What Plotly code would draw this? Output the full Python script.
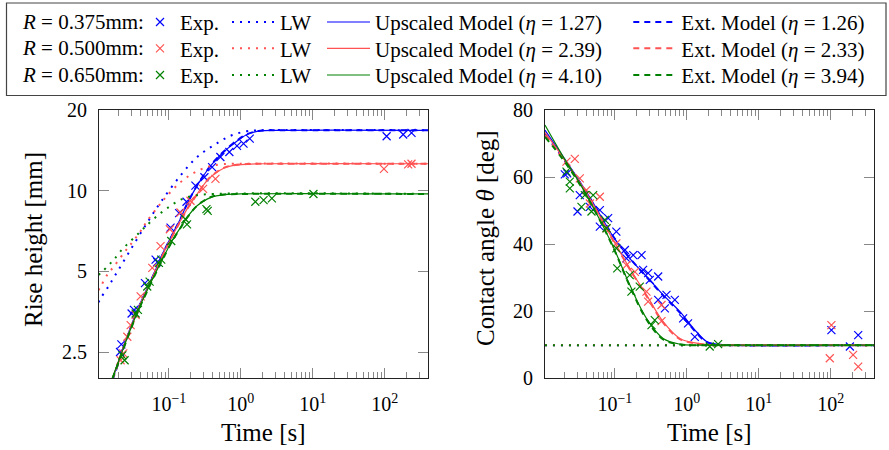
import plotly.graph_objects as go

# ---------------- data ----------------
radii_labels = ["<i>R</i> = 0.375mm:", "<i>R</i> = 0.500mm:", "<i>R</i> = 0.650mm:"]
eta_up = ["1.27", "2.39", "4.10"]
eta_ext = ["1.26", "2.33", "3.94"]
colors = ["#0000ff", "#ff5252", "#008000"]

# Rise height: experiments
t_exp_h_375 = [0.0210, 0.0219, 0.0304, 0.0328, 0.0466, 0.0655, 0.0690, 0.1056, 0.139, 0.176, 0.234, 0.312, 0.399,
               0.520, 0.693, 0.885, 1.09, 1.33, 106, 180, 235]
h_exp_375 = [2.50, 2.67, 3.48, 3.59, 4.52, 5.53, 5.41, 7.28, 8.24, 9.09, 10.44, 11.22, 12.24,
             13.35, 13.94, 14.69, 14.98, 15.64, 15.96, 16.2, 16.43]
t_exp_h_500 = [0.0214, 0.0233, 0.0265, 0.0295, 0.0346, 0.0406, 0.0589, 0.0767, 0.1033, 0.145, 0.200, 0.299, 0.444,
               97.3, 211, 235]
h_exp_500 = [2.33, 2.47, 2.85, 3.15, 3.44, 4.03, 5.15, 6.21, 7.18, 8.29, 9.17, 10.15, 11.06, 12.06, 12.53, 12.6]
t_exp_h_650 = [0.0226, 0.0243, 0.0346, 0.0372, 0.0501, 0.0541, 0.0728, 0.0784, 0.108, 0.170, 0.179, 0.333, 0.347,
               1.59, 2.07, 2.70, 10.2]
h_exp_650 = [2.43, 2.33, 3.48, 3.59, 4.39, 4.58, 5.38, 5.53, 6.49, 7.82, 7.49, 8.53, 8.41, 9.09, 9.22, 9.36, 9.72]

# Rise height: Lucas-Washburn
t_lw_375 = [0.0105, 0.0113, 0.0140, 0.0173, 0.0295, 0.0501, 0.0767, 0.145, 0.247, 0.421, 0.715, 1.22, 1.86, 400]
h_lw_375 = [3.83, 3.97, 4.33, 4.75, 6.03, 7.60, 9.04, 11.38, 13.35, 14.77, 16.01, 16.67, 16.8, 16.8]
t_lw_500 = [0.0105, 0.0113, 0.0140, 0.0173, 0.0238, 0.0295, 0.0406, 0.0501, 0.0767, 0.0948, 0.145, 0.222, 0.340,
            0.520, 1.0, 400]
h_lw_500 = [4.25, 4.39, 4.86, 5.22, 5.86, 6.30, 7.07, 7.71, 8.95, 9.58, 10.75, 11.65, 12.25, 12.53, 12.6, 12.6]
t_lw_650 = [0.0105, 0.0119, 0.0148, 0.0173, 0.0214, 0.0295, 0.0406, 0.0501, 0.0690, 0.0948, 0.145, 0.222, 0.421, 400]
h_lw_650 = [4.85, 4.98, 5.30, 5.53, 5.95, 6.49, 7.05, 7.45, 8.05, 8.60, 9.25, 9.58, 9.72, 9.72]

# Rise height: upscaled / extended models
t_mod_h_375 = [0.0164, 0.0203, 0.0238, 0.0295, 0.0365, 0.0501, 0.0690, 0.0853, 0.1175, 0.145, 0.179, 0.247, 0.340,
               0.421, 0.578, 0.796, 1.22, 1.86, 3.52, 400]
h_up_375 = [1.97, 2.33, 2.65, 3.10, 3.59, 4.33, 5.22, 5.95, 7.05, 7.85, 8.91, 10.44, 11.89, 12.78, 13.94, 14.98,
            16.2, 16.72, 16.8, 16.8]
h_ext_375 = [1.95, 2.31, 2.63, 3.08, 3.57, 4.31, 5.20, 5.93, 7.03, 7.85, 8.92, 10.46, 11.92, 12.82, 14.0, 15.05,
             16.25, 16.74, 16.8, 16.8]
t_mod_h_500 = [0.0164, 0.0203, 0.0238, 0.0295, 0.0365, 0.0501, 0.0690, 0.0853, 0.1175, 0.145, 0.179, 0.247, 0.340,
               0.421, 0.578, 0.796, 1.22, 1.86, 400]
h_up_500 = [1.99, 2.33, 2.64, 3.08, 3.56, 4.30, 5.17, 5.88, 6.95, 7.72, 8.53, 9.71, 10.9, 11.49, 12.13, 12.42,
            12.55, 12.6, 12.6]
h_ext_500 = [1.97, 2.31, 2.62, 3.06, 3.54, 4.28, 5.15, 5.86, 6.93, 7.70, 8.52, 9.70, 10.92, 11.52, 12.17, 12.45,
             12.57, 12.6, 12.6]
t_mod_h_650 = [0.0164, 0.0203, 0.0238, 0.0295, 0.0365, 0.0501, 0.0690, 0.0853, 0.1175, 0.145, 0.179, 0.247, 0.340,
               0.421, 0.578, 1.0, 400]
h_up_650 = [2.0, 2.33, 2.62, 3.05, 3.52, 4.25, 5.08, 5.69, 6.67, 7.28, 7.94, 8.78, 9.30, 9.52, 9.65, 9.72, 9.72]
h_ext_650 = [1.98, 2.31, 2.60, 3.03, 3.50, 4.22, 5.05, 5.66, 6.64, 7.26, 7.93, 8.79, 9.33, 9.55, 9.67, 9.72, 9.72]

# Contact angle: experiments
t_exp_a_375 = [0.0202, 0.0218, 0.0303, 0.0326, 0.0450, 0.0619, 0.0619, 0.0807, 0.105, 0.138, 0.145, 0.180, 0.235,
               0.247, 0.290, 0.306, 0.400, 0.400, 0.522, 0.495, 0.681, 0.889, 1.04, 1.29, 102, 184, 240]
a_exp_375 = [60.8, 61.1, 49.7, 54.6, 51.1, 50.1, 45.2, 47.7, 43.7, 38.2, 35.7, 36.7, 36.7, 32.3, 31.3, 29.3, 30.3,
             23.3, 24.8, 20.8, 23.3, 17.8, 16.3, 12.3, 14.3, 9.4, 12.8]
t_exp_a_500 = [0.0213, 0.0278, 0.0326, 0.0403, 0.0450, 0.0619, 0.0766, 0.105, 0.145, 0.190, 0.275, 0.290, 0.445,
               0.445, 102, 96.8, 204, 240]
a_exp_500 = [64.6, 65.4, 59.6, 56.1, 52.1, 54.1, 44.7, 40.2, 33.7, 31.7, 25.8, 22.8, 21.8, 17.0, 15.8, 5.9, 6.9, 3.4]
t_exp_a_650 = [0.0213, 0.0237, 0.0237, 0.0344, 0.0383, 0.0474, 0.0500, 0.0727, 0.0766, 0.105, 0.108, 0.161, 0.170,
               0.222, 0.323, 0.359, 2.08, 2.72]
a_exp_650 = [61.6, 58.6, 56.6, 51.1, 54.6, 49.7, 54.6, 47.2, 44.7, 38.7, 32.7, 30.7, 25.8, 27.3, 15.8, 17.3, 9.4, 10.1]

# Contact angle: LW (equilibrium angle) and models
t_lw_a = [0.0107, 400]
a_lw = [9.8, 9.8]
t_mod_a = [0.0107, 0.0191, 0.0326, 0.0556, 0.0948, 0.161, 0.275, 0.469, 0.800, 1.36, 1.88, 2.58, 3.95, 400]
a_up_375 = [74.0, 66.1, 58.6, 50.6, 42.2, 35.7, 30.3, 24.8, 19.8, 13.8, 10.9, 10.1, 9.8, 9.8]
a_ext_375 = [72.8, 65.6, 58.4, 50.6, 42.3, 35.8, 30.2, 24.6, 19.5, 13.5, 10.7, 10.0, 9.8, 9.8]
a_up_500 = [73.3, 65.8, 58.4, 50.1, 41.2, 32.7, 24.8, 16.8, 11.8, 10.4, 10.0, 9.8, 9.8, 9.8]
a_ext_500 = [72.5, 65.4, 58.2, 50.0, 41.0, 32.5, 24.5, 16.5, 11.6, 10.3, 9.9, 9.8, 9.8, 9.8]
a_up_650 = [75.5, 66.1, 58.1, 49.1, 39.2, 27.8, 17.8, 11.8, 10.1, 9.8, 9.8, 9.8, 9.8, 9.8]
a_ext_650 = [72.0, 65.2, 57.8, 49.0, 39.0, 27.5, 17.5, 11.5, 10.0, 9.8, 9.8, 9.8, 9.8, 9.8]

x_tickvals = [0.1, 1, 10, 100]
x_ticktext = ["10<sup>\u22121</sup>", "10<sup>0</sup>", "10<sup>1</sup>", "10<sup>2</sup>"]
h_tickvals = [2.5, 5, 10, 20]
h_ticktext = ["2.5", "5", "10", "20"]

# ---------------- figure ----------------
W, H = 889, 450
FONT = "Liberation Serif"
LEG_TXT = 21

fig = go.Figure()

series = [
    dict(te=t_exp_h_375, he=h_exp_375, tl=t_lw_375, hl=h_lw_375, tm=t_mod_h_375, hu=h_up_375, hx=h_ext_375,
         ae_t=t_exp_a_375, ae=a_exp_375, au=a_up_375, ax_=a_ext_375),
    dict(te=t_exp_h_500, he=h_exp_500, tl=t_lw_500, hl=h_lw_500, tm=t_mod_h_500, hu=h_up_500, hx=h_ext_500,
         ae_t=t_exp_a_500, ae=a_exp_500, au=a_up_500, ax_=a_ext_500),
    dict(te=t_exp_h_650, he=h_exp_650, tl=t_lw_650, hl=h_lw_650, tm=t_mod_h_650, hu=h_up_650, hx=h_ext_650,
         ae_t=t_exp_a_650, ae=a_exp_650, au=a_up_650, ax_=a_ext_650),
]

DOT = "2px,6px"
DASH = "6px,5px"

# legend grid: one small legend per (row, column)
row_y = [22, 48.3, 75]
col_x = [140, 227, 322, 628.3]       # left edges of the legend columns (px)
col_w = [30, 43, 43, 43]             # symbol widths
def leg_id(row, col):
    n = row * 4 + col + 1
    return "legend" if n == 1 else "legend%d" % n

item_h = LEG_TXT * 1.3 + 3
leg_layout = {}
for r in range(3):
    for c in range(4):
        leg_layout[leg_id(r, c)] = dict(
            x=col_x[c] / W, y=1 - (row_y[r] - 5 - item_h / 2) / H, xanchor="left", yanchor="top",
            orientation="v", bgcolor="rgba(0,0,0,0)", borderwidth=0, itemwidth=col_w[c],
            font=dict(family=FONT, size=LEG_TXT, color="black"))

for i, s in enumerate(series):
    c = colors[i]
    mk = dict(symbol="x-thin", size=8, color=c, line=dict(width=1.2, color=c))
    # left: rise height
    fig.add_trace(go.Scatter(x=s["tl"], y=s["hl"], mode="lines", line=dict(color=c, width=2, dash=DOT),
                             line_shape="spline", name="LW", legend=leg_id(i, 1),
                             xaxis="x", yaxis="y"))
    fig.add_trace(go.Scatter(x=s["tm"], y=s["hu"], mode="lines", line=dict(color=c, width=1.2),
                             line_shape="spline", name="Upscaled Model (<i>η</i> = %s)" % eta_up[i],
                             legend=leg_id(i, 2), xaxis="x", yaxis="y"))
    fig.add_trace(go.Scatter(x=s["tm"], y=s["hx"], mode="lines", line=dict(color=c, width=2, dash=DASH),
                             line_shape="spline", name="Ext. Model (<i>η</i> = %s)" % eta_ext[i],
                             legend=leg_id(i, 3), xaxis="x", yaxis="y"))
    fig.add_trace(go.Scatter(x=s["te"], y=s["he"], mode="markers", marker=mk, name="Exp.",
                             legend=leg_id(i, 0), xaxis="x", yaxis="y"))
    # right: contact angle
    fig.add_trace(go.Scatter(x=t_lw_a, y=a_lw, mode="lines", line=dict(color=c, width=2, dash=DOT),
                             showlegend=False, xaxis="x2", yaxis="y2"))
    fig.add_trace(go.Scatter(x=t_mod_a, y=s["au"], mode="lines", line=dict(color=c, width=1.2),
                             line_shape="spline", showlegend=False, xaxis="x2", yaxis="y2"))
    fig.add_trace(go.Scatter(x=t_mod_a, y=s["ax_"], mode="lines", line=dict(color=c, width=2, dash=DASH),
                             line_shape="spline", showlegend=False, xaxis="x2", yaxis="y2"))
    fig.add_trace(go.Scatter(x=s["ae_t"], y=s["ae"], mode="markers", marker=mk, showlegend=False,
                             xaxis="x2", yaxis="y2"))

AXC = "#222222"
TKC = "#888888"
common_x = dict(type="log", range=[-1.97, 2.6], tickmode="array", tickvals=x_tickvals, ticktext=x_ticktext,
                ticks="inside", ticklen=10, tickwidth=1, tickcolor=TKC, showline=True, linecolor=AXC,
                linewidth=1, mirror="ticks", showgrid=False, zeroline=False, automargin=False,
                minor=dict(ticks="inside", ticklen=6, tickwidth=1, tickcolor=TKC, dtick="D1", showgrid=False),
                tickfont=dict(family=FONT, size=20, color="black"), ticklabelstandoff=8)

py0, py1 = 110, 378
ydom = [1 - py1 / H, 1 - py0 / H]

fig.update_layout(
    width=W, height=H, margin=dict(l=0, r=0, t=0, b=0, pad=0, autoexpand=False),
    paper_bgcolor="white", plot_bgcolor="white",
    font=dict(family=FONT, color="black"),
    xaxis=dict(domain=[99 / W, 428 / W], anchor="y", **common_x),
    xaxis2=dict(domain=[545 / W, 874 / W], anchor="y2", **common_x),
    yaxis=dict(domain=ydom, anchor="x", type="log", range=[0.301, 1.301], tickmode="array",
               tickvals=h_tickvals, ticktext=h_ticktext, ticks="inside", ticklen=10, tickcolor=TKC,
               showline=True, linecolor=AXC, linewidth=1, mirror="ticks", showgrid=False, zeroline=False,
               automargin=False, tickfont=dict(family=FONT, size=20, color="black"), ticklabelstandoff=7),
    yaxis2=dict(domain=ydom, anchor="x2", range=[0, 80], tickmode="array", tickvals=[0, 20, 40, 60, 80],
                ticks="inside", ticklen=10, tickcolor=TKC, showline=True, linecolor=AXC, linewidth=1,
                mirror="ticks", showgrid=False, zeroline=False, automargin=False,
                tickfont=dict(family=FONT, size=20, color="black"), ticklabelstandoff=7),
    showlegend=True,
    **leg_layout,
)

# legend frame
fig.add_shape(type="rect", xref="paper", yref="paper", x0=6.5 / W, x1=886 / W, y0=1 - 95.5 / H, y1=1 - 3 / H,
              line=dict(color="#444444", width=1.2), fillcolor="rgba(0,0,0,0)", layer="below")

for lbl, ry in zip(radii_labels, row_y):
    fig.add_annotation(text=lbl, x=20 / W, y=1 - ry / H, xref="paper", yref="paper", xanchor="left",
                       yanchor="middle", showarrow=False, font=dict(family=FONT, size=LEG_TXT, color="black"))

# axis titles
fig.add_annotation(text="Rise height [mm]", x=33 / W, y=1 - 240 / H, xref="paper", yref="paper",
                   xanchor="center", yanchor="middle",
                   textangle=-90, showarrow=False, font=dict(family=FONT, size=25, color="black"))
fig.add_annotation(text="Contact angle <i>θ</i> [deg]", x=486 / W, y=1 - 238 / H, xref="paper", yref="paper",
                   xanchor="center", yanchor="middle",
                   textangle=-90, showarrow=False, font=dict(family=FONT, size=25, color="black"))
for cx in [263.5, 709.5]:
    fig.add_annotation(text="Time [s]", x=cx / W, y=1 - 432 / H, xref="paper", yref="paper",
                       xanchor="center", yanchor="middle",
                       showarrow=False, font=dict(family=FONT, size=25, color="black"))

fig.write_html("out.html")
